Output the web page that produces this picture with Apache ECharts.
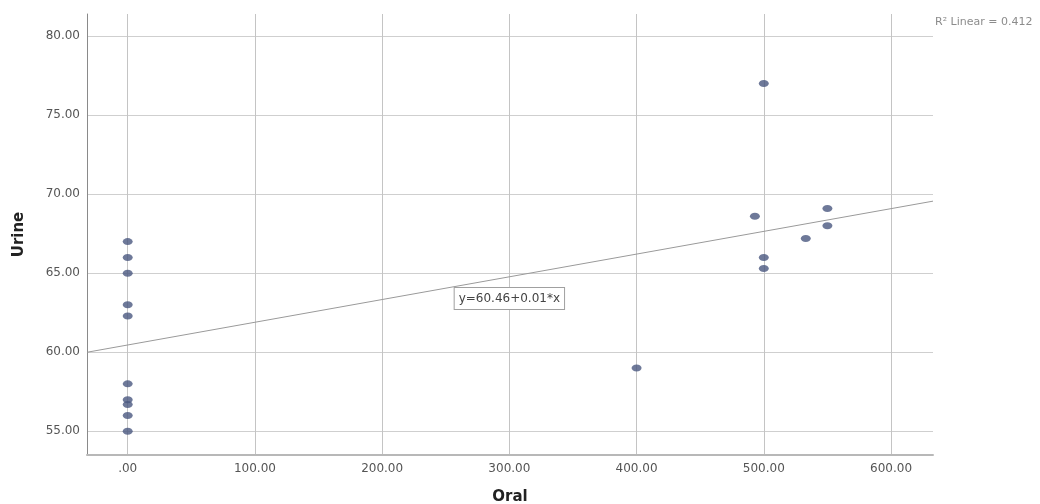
<!DOCTYPE html>
<html>
<head>
<meta charset="utf-8">
<script src="https://cdn.jsdelivr.net/npm/echarts@6/dist/echarts.min.js"></script>
<style>
  html, body { margin: 0; padding: 0; background: #fff; }
  #chart { width: 1040px; height: 504px; }
</style>
</head>
<body>
<div id="chart"></div>
<script>
// Oral vs Urine
const oral  = [0, 0, 0, 0, 0, 0, 0, 0, 0, 0, 400, 500, 493, 500, 500, 533, 550, 550];
const urine = [67.0, 66.0, 65.0, 63.0, 62.3, 58.0, 57.0, 56.7, 56.0, 55.0, 59.0, 77.0, 68.6, 66.0, 65.3, 67.2, 69.1, 68.0];

const fitX = [-32, 633];
const fitY = [60.0, 69.56];
const fitLabel = 'y=60.46+0.01*x';
const fitLabelAt = [300, 63.4];
const r2Text = 'R² Linear = 0.412';

const xTitle = 'Oral';
const yTitle = 'Urine';

const font = 'DejaVu Sans';
const chart = echarts.init(document.getElementById('chart'));

chart.setOption({
  animation: false,
  grid: { left: 87, right: 107, top: 14, bottom: 49, containLabel: false, outerBoundsMode: 'none' },
  xAxis: {
    type: 'value',
    min: -32,
    max: 633,
    splitNumber: 6,
    name: xTitle,
    nameLocation: 'middle',
    nameGap: 35,
    nameTextStyle: { fontFamily: font, fontSize: 15, fontWeight: 'bold', color: '#222' },
    axisLine: { show: true, onZero: false, lineStyle: { color: '#b8b8b8', width: 2 } },
    axisTick: { show: false },
    axisLabel: {
      fontFamily: font, fontSize: 12, color: '#555', margin: 8,
      showMinLabel: false, showMaxLabel: false,
      formatter: (v) => (v % 100 !== 0 ? '' : v === 0 ? '.00' : v.toFixed(2)),
    },
    splitLine: { show: true, showMinLine: false, showMaxLine: false, lineStyle: { color: '#c4c4c4' } },
  },
  yAxis: {
    type: 'value',
    min: 53.5,
    max: 81.4,
    splitNumber: 5,
    name: yTitle,
    nameLocation: 'middle',
    nameGap: 60,
    nameRotate: 90,
    nameTextStyle: { fontFamily: font, fontSize: 15, fontWeight: 'bold', color: '#222' },
    axisLine: { show: true, onZero: false, lineStyle: { color: '#8a8a8a', width: 1 } },
    axisTick: { show: false },
    axisLabel: {
      fontFamily: font, fontSize: 12, color: '#555', margin: 7,
      showMinLabel: false, showMaxLabel: false,
      formatter: (v) => (Math.abs(v % 5) > 1e-6 ? '' : v.toFixed(2)),
    },
    splitLine: { show: true, showMinLine: false, showMaxLine: false, lineStyle: { color: '#cfcfcf' } },
  },
  graphic: [{
    type: 'text',
    left: 935,
    top: 17,
    style: { text: r2Text, fontFamily: font, fontSize: 11, fill: '#8c8c8c' },
  }],
  series: [
    {
      type: 'line',
      data: fitX.map((x, i) => [x, fitY[i]]),
      symbol: 'none',
      silent: true,
      lineStyle: { color: '#9a9a9a', width: 1 },
      markPoint: {
        symbol: 'rect',
        symbolSize: 1,
        itemStyle: { color: 'rgba(0,0,0,0)' },
        label: {
          show: true,
          position: 'inside',
          formatter: fitLabel,
          fontFamily: font,
          fontSize: 12,
          color: '#444',
          backgroundColor: '#fff',
          borderColor: '#a0a0a0',
          borderWidth: 1,
          padding: [5, 4, 4, 4],
        },
        data: [{ coord: fitLabelAt }],
      },
      z: 3,
    },
    {
      type: 'scatter',
      data: oral.map((x, i) => [x, urine[i]]),
      symbol: 'circle',
      symbolSize: [10, 7],
      itemStyle: { color: '#4a5880' },
      z: 4,
    },
  ],
});
</script>
</body>
</html>
